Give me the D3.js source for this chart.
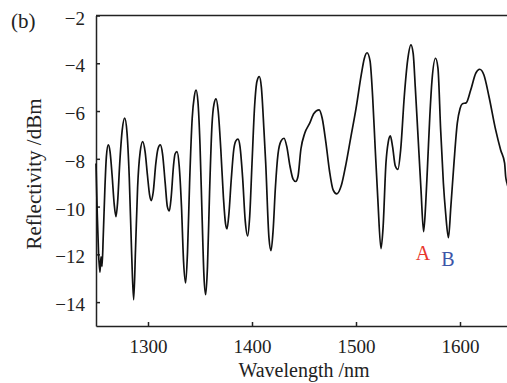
<!DOCTYPE html>
<html>
<head>
<meta charset="utf-8">
<script src="https://cdn.jsdelivr.net/npm/d3@7"></script>
<style>
  body { margin: 0; background: #fff; }
  svg { display: block; }
  .axis text { font-family: "Liberation Serif", serif; font-size: 19px; fill: #222; }
  .axis path, .axis line { stroke: #222; stroke-width: 1.5; }
</style>
</head>
<body>
<svg id="chart" width="507" height="383"></svg>
<script>
// reflectivity spectrum
const wavelength = [
  1250.0, 1251.2, 1252.5, 1253.8, 1254.8, 1255.8, 1257.0, 1258.5, 1260.0, 1261.8,
  1263.5, 1265.5, 1267.5, 1269.2, 1270.8, 1272.8, 1275.2, 1277.6, 1279.8, 1282.0,
  1284.3, 1286.2, 1288.0, 1290.0, 1292.5, 1294.9, 1297.2, 1299.5, 1301.5, 1303.2,
  1305.0, 1307.5, 1309.5, 1311.8, 1314.0, 1316.5, 1318.6, 1320.5, 1322.3, 1324.5,
  1326.0, 1327.9, 1330.0, 1332.2, 1334.2, 1336.2, 1338.0, 1340.0, 1342.5, 1344.5,
  1346.2, 1348.0, 1350.0, 1352.0, 1353.8, 1355.5, 1357.2, 1359.2, 1361.5, 1363.5,
  1365.4, 1367.5, 1370.0, 1372.5, 1374.5, 1376.0, 1377.8, 1380.0, 1382.5, 1384.5,
  1386.5, 1388.5, 1391.0, 1393.5, 1395.8, 1397.8, 1400.0, 1402.5, 1404.8, 1407.0,
  1409.0, 1411.5, 1413.2, 1416.3, 1418.3, 1420.3, 1422.5, 1425.0, 1428.0, 1430.8,
  1433.5, 1436.5, 1439.5, 1442.0, 1444.2, 1447.0, 1450.7, 1455.5, 1459.5, 1464.5,
  1467.5, 1471.0, 1474.5, 1478.0, 1481.5, 1486.0, 1490.0, 1495.0, 1500.0, 1505.0,
  1508.0, 1510.6, 1513.5, 1516.0, 1518.5, 1521.0, 1524.0, 1526.0, 1528.8, 1531.0,
  1533.0, 1535.2, 1537.8, 1540.3, 1543.0, 1546.4, 1549.7, 1552.8, 1555.0, 1557.0,
  1559.3, 1562.5, 1565.0, 1567.0, 1568.9, 1571.0, 1573.1, 1576.5, 1578.8, 1581.4,
  1584.0, 1586.2, 1588.9, 1591.2, 1594.2, 1597.4, 1600.0, 1602.2, 1606.1, 1610.3,
  1615.1, 1618.9, 1623.0, 1627.9, 1634.3, 1639.1, 1642.9, 1643.9, 1645.2, 1650.0
];
const reflectivity = [
  -8.2, -10.3, -12.0, -12.75, -12.1, -12.5, -11.2, -9.3, -7.9, -7.42,
  -7.7, -8.7, -9.9, -10.42, -9.8, -8.2, -6.8, -6.30, -6.9, -8.8,
  -12.0, -13.9, -11.8, -9.2, -7.7, -7.28, -7.7, -8.7, -9.5, -9.75,
  -9.4, -8.2, -7.6, -7.42, -7.8, -9.0, -10.0, -10.18, -9.6, -8.3,
  -7.8, -7.70, -8.3, -10.0, -12.3, -13.2, -11.9, -9.0, -6.3, -5.4,
  -5.12, -5.6, -7.4, -10.4, -12.9, -13.69, -12.5, -9.4, -6.6, -5.7,
  -5.49, -6.0, -7.6, -9.6, -10.7, -10.93, -10.3, -8.9, -7.6, -7.25,
  -7.18, -7.5, -8.8, -10.6, -11.23, -10.4, -8.2, -5.8, -4.75, -4.56,
  -5.0, -6.8, -8.2, -11.3, -11.84, -11.0, -9.2, -7.8, -7.25, -7.14,
  -7.5, -8.3, -8.85, -8.95, -8.74, -7.6, -6.93, -6.51, -6.1, -5.95,
  -6.3, -7.3, -8.5, -9.3, -9.47, -9.1, -8.3, -7.1, -5.9, -4.5,
  -3.8, -3.56, -3.9, -5.4, -7.6, -9.7, -11.76, -10.9, -8.18, -7.3,
  -7.04, -7.5, -8.3, -8.44, -7.6, -5.4, -3.86, -3.23, -3.6, -5.0,
  -6.79, -9.3, -11.05, -9.9, -8.18, -6.2, -4.7, -3.79, -4.2, -6.79,
  -9.0, -10.28, -11.30, -10.0, -8.18, -6.51, -5.9, -5.70, -5.65, -5.12,
  -4.42, -4.25, -4.49, -5.40, -6.79, -7.63, -8.18, -8.74, -9.02, -9.6
];
const xTicks = [1300, 1400, 1500, 1600];
const yTicks = [-14, -12, -10, -8, -6, -4, -2];
const markers = [
  { label: "A", wavelength: 1565.0, value: -11.05, color: "#e8372c" },
  { label: "B", wavelength: 1588.9, value: -11.30, color: "#3b55a8" }
];

const svg = d3.select("#chart");
const plotLeft = 96, plotRight = 512, plotTop = 15.5, plotBottom = 326;

const x = d3.scaleLinear().domain([1250, 1650]).range([plotLeft, plotRight]);
const y = d3.scaleLinear().domain([-15, -2]).range([plotBottom, plotTop]);

const points = wavelength.map((w, i) => [w, reflectivity[i]]);

// frame top line
svg.append("line")
  .attr("x1", plotLeft).attr("x2", plotRight)
  .attr("y1", plotTop).attr("y2", plotTop)
  .attr("stroke", "#222").attr("stroke-width", 1.5);

svg.append("g")
  .attr("class", "axis")
  .attr("transform", `translate(0,${plotBottom})`)
  .call(d3.axisBottom(x).tickValues(xTicks).tickSizeInner(-4).tickSizeOuter(0).tickPadding(13.5)
    .tickFormat(d3.format("d")));

svg.append("g")
  .attr("class", "axis")
  .attr("transform", `translate(${plotLeft},0)`)
  .call(d3.axisLeft(y).tickValues(yTicks).tickSizeInner(-4).tickSizeOuter(0).tickPadding(11)
    .tickFormat(d => d3.format("d")(d).replace("-", "\u2212")))
  .selectAll("text").attr("dy", "0.45em");

svg.append("path")
  .datum(points)
  .attr("fill", "none")
  .attr("stroke", "#111")
  .attr("stroke-width", 1.7)
  .attr("stroke-linejoin", "round")
  .attr("d", d3.line()
    .x(d => x(d[0]))
    .y(d => y(d[1]))
    .curve(d3.curveMonotoneX));

svg.append("g")
  .selectAll("text")
  .data(markers)
  .enter().append("text")
  .attr("x", d => x(d.wavelength) - 0.5)
  .attr("y", d => y(d.value) + 28)
  .attr("text-anchor", "middle")
  .attr("font-family", "Liberation Serif, serif")
  .attr("font-size", 20)
  .attr("fill", d => d.color)
  .text(d => d.label);

svg.append("text")
  .attr("x", 304)
  .attr("y", 377)
  .attr("text-anchor", "middle")
  .attr("font-family", "Liberation Serif, serif")
  .attr("font-size", 20)
  .attr("fill", "#222")
  .text("Wavelength /nm");

svg.append("text")
  .attr("transform", "translate(41,174) rotate(-90)")
  .attr("text-anchor", "middle")
  .attr("font-family", "Liberation Serif, serif")
  .attr("font-size", 21)
  .attr("fill", "#222")
  .text("Reflectivity /dBm");

svg.append("text")
  .attr("x", 11)
  .attr("y", 28)
  .attr("font-family", "Liberation Serif, serif")
  .attr("font-size", 21)
  .attr("fill", "#222")
  .text("(b)");
</script>
</body>
</html>
